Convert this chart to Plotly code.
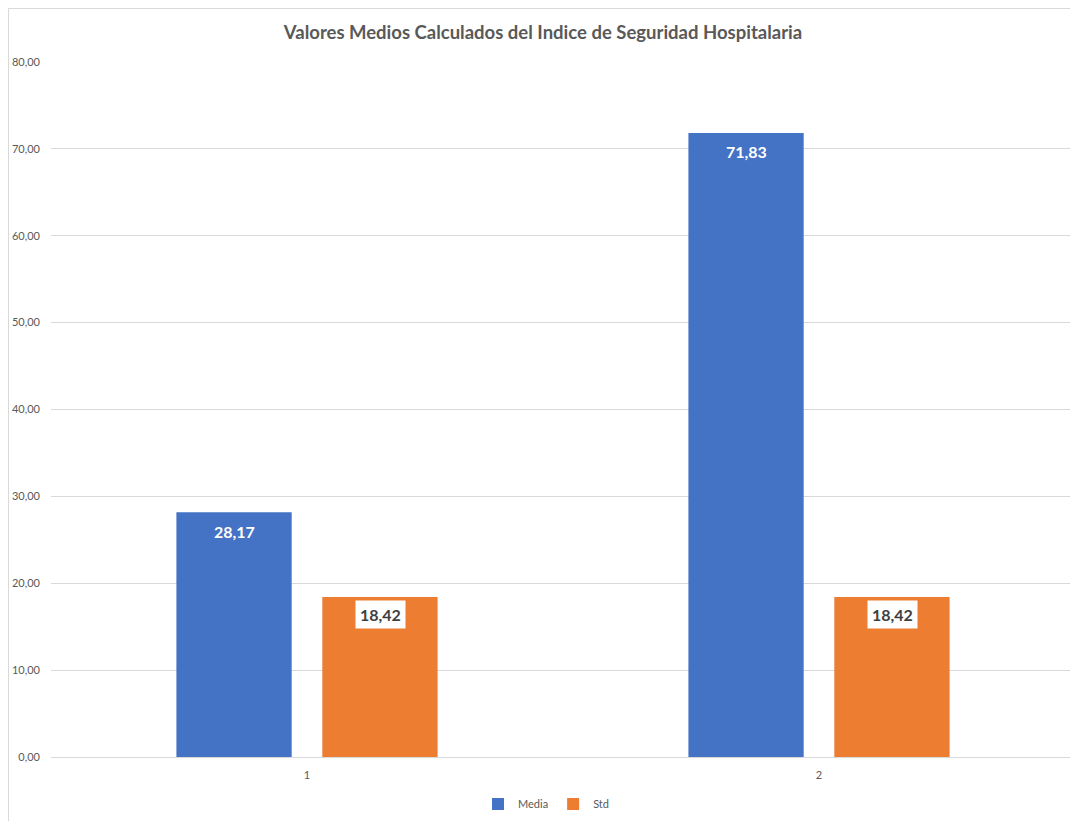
import plotly.graph_objects as go

categories = ["1", "2"]
media_values = [28.17, 71.83]
std_values = [18.42, 18.42]
series_names = ["Media", "Std"]
title_text = "Valores Medios Calculados del Indice de Seguridad Hospitalaria"
y_ticks = [0, 10, 20, 30, 40, 50, 60, 70, 80]

BLUE = "#4472C4"
ORANGE = "#ED7D31"
GRAY = "#595959"
FONT = "Lato"

W, H = 1070, 813
ML, MR, MT, MB = 43, 3, 54, 64
PW = W - ML - MR
PH = H - MT - MB

def fmt(v):
    return f"{v:.2f}".replace(".", ",")

fig = go.Figure()
fig.add_trace(go.Bar(
    x=categories, y=media_values, name=series_names[0], marker_color=BLUE,
    marker_line_width=0, cliponaxis=False,
))
fig.add_trace(go.Bar(
    x=categories, y=std_values, name=series_names[1], marker_color=ORANGE,
    marker_line_width=0, cliponaxis=False,
))

# labels placed at category index positions on the category axis
for i, v in enumerate(media_values):
    fig.add_annotation(
        x=i, y=v, xref="x", yref="y", text=f"<b>{fmt(v)}</b>",
        showarrow=False, xshift=-73, yshift=-19,
        font=dict(family=FONT, size=16, color="white"),
    )
for i, v in enumerate(std_values):
    fig.add_annotation(
        x=i, y=v, xref="x", yref="y", text=f"<b>{fmt(v)}</b>",
        showarrow=False, xshift=73, yshift=-18, bgcolor="white",
        font=dict(family=FONT, size=16, color="#404040"),
        borderpad=4,
    )

fig.update_layout(
    width=W, height=H,
    paper_bgcolor="white", plot_bgcolor="white",
    margin=dict(l=ML, r=MR, t=MT, b=MB, autoexpand=False),
    title=dict(text=f"<b>{title_text}</b>", x=0.5, xanchor="center",
               y=1 - 25 / H, yanchor="middle",
               font=dict(family=FONT, size=18.5, color=GRAY)),
    barmode="group", bargap=0.43, bargroupgap=0.21,
    showlegend=True,
    legend=dict(orientation="h", x=0.5 - 17 / PW, xanchor="center",
                y=-(796 - (MT + PH)) / PH, yanchor="middle",
                font=dict(family=FONT, size=11, color=GRAY),
                itemwidth=30, traceorder="normal"),
    font=dict(family=FONT, color=GRAY),
)
fig.update_yaxes(
    range=[0, 80], tickvals=y_ticks, ticktext=[fmt(v) for v in y_ticks],
    showgrid=True, gridcolor="#D9D9D9", gridwidth=1, zeroline=False,
    showline=False, ticks="", ticklabelstandoff=10,
    tickfont=dict(family=FONT, size=11, color=GRAY),
)
fig.update_xaxes(
    type="category", range=[-0.5, len(categories) - 0.5],
    showgrid=False, showline=True, linecolor="#D9D9D9", linewidth=1,
    ticks="", tickfont=dict(family=FONT, size=11, color=GRAY),
    ticklabelstandoff=8,
)
# Chart area border (left and top edges visible)
fig.add_shape(type="rect", xref="paper", yref="paper",
              x0=(0.5 - ML) / PW, x1=1.1, y0=-0.2, y1=1 + (MT - 0.5) / PH,
              line=dict(color="#D9D9D9", width=1), fillcolor="rgba(0,0,0,0)",
              layer="below")

fig.write_html("out.html")
